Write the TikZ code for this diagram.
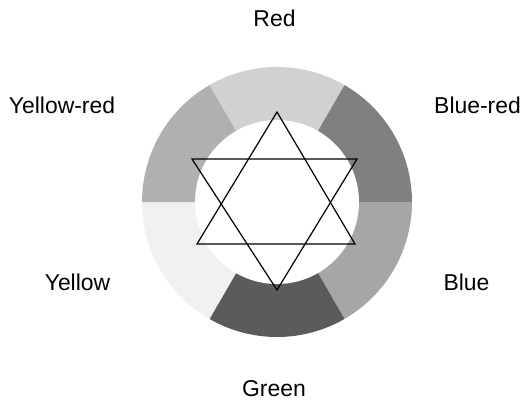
\documentclass[tikz,border=0pt]{standalone}
\usepackage{fontspec}
\setmainfont{Liberation Sans}
\begin{document}
\begin{tikzpicture}[x=1pt,y=1pt,
  lbl/.style={anchor=base,inner sep=0pt,font=\fontsize{22.9}{27}\selectfont},
  starline/.style={line width=1.2pt,black,line join=miter}]
\useasboundingbox (0,0) rectangle (525,400);
\definecolor{cRed}{gray}{0.82}
\definecolor{cBlueRed}{gray}{0.50}
\definecolor{cBlue}{gray}{0.65}
\definecolor{cGreen}{gray}{0.355}
\definecolor{cYellow}{gray}{0.945}
\definecolor{cYellowRed}{gray}{0.69}
\coordinate (O) at (277,198);
\foreach \a/\b/\c in {60/120/cRed,0/60/cBlueRed,-60/0/cBlue,240/300/cGreen,180/240/cYellow,120/180/cYellowRed}{
  \fill[\c] (O) -- +(\a:135pt) arc[start angle=\a,end angle=\b,radius=135pt] -- cycle;
}
\fill[white] (O) circle[radius=82pt];
% star
\coordinate (u1) at (277,288);
\coordinate (u2) at (197,156);
\coordinate (u3) at (355,156);
\coordinate (d1) at (192,241);
\coordinate (d2) at (357,241);
\coordinate (d3) at (277,110);
\draw[starline] (u1) -- (u2) -- (u3) -- cycle;
\draw[starline] (d1) -- (d2) -- (d3) -- cycle;
% labels
\node[lbl] (red) at (274.5,373.3) {Red};
\node[lbl] (yr) at (62,287) {Yellow-red};
\node[lbl] (br) at (477.5,287) {Blue-red};
\node[lbl] (ye) at (77.5,110) {Yellow};
\node[lbl] (bl) at (466.5,110) {Blue};
\node[lbl] (gr) at (274,3.3) {Green};
\end{tikzpicture}
\end{document}
